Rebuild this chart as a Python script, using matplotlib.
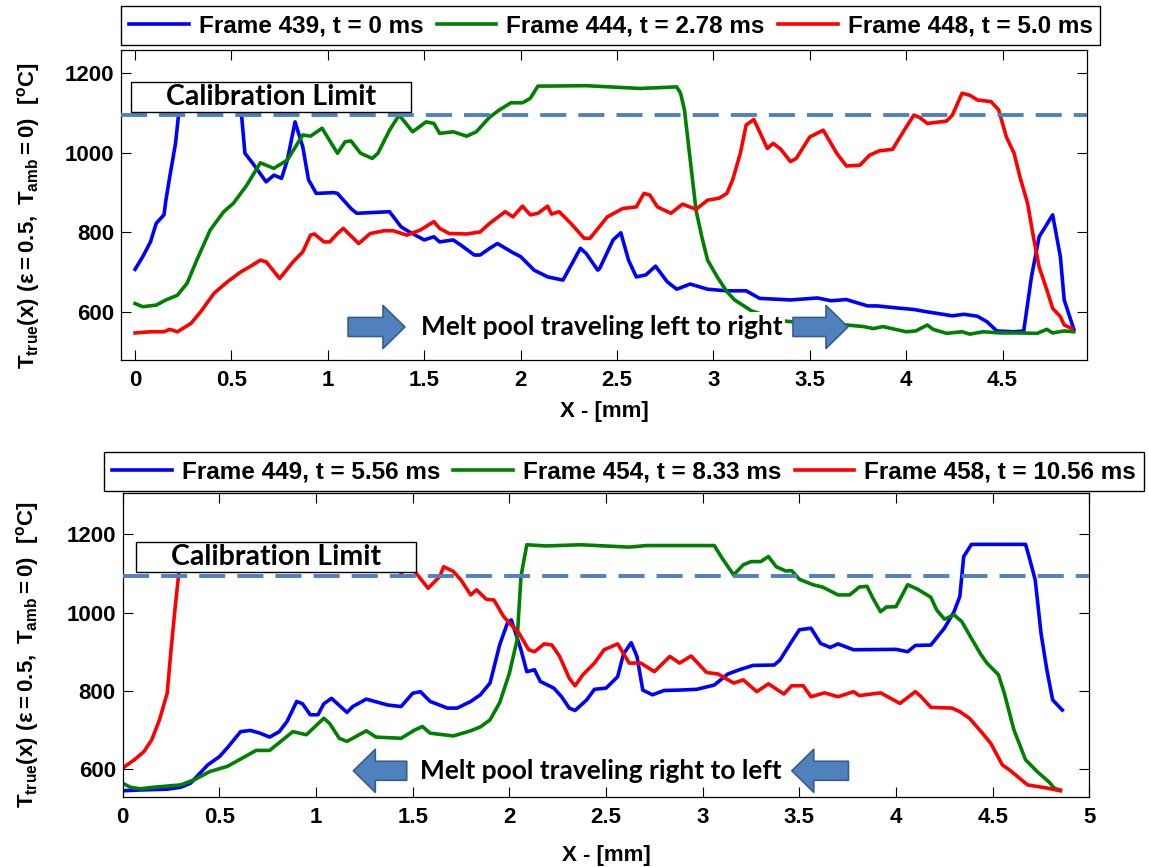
import matplotlib
matplotlib.use('Agg')
import matplotlib.pyplot as plt
from matplotlib.patches import Rectangle

plt.rcParams['font.family'] = 'Liberation Sans'
plt.rcParams['font.weight'] = 'bold'
plt.rcParams['mathtext.fontset'] = 'custom'
plt.rcParams['mathtext.rm'] = 'Liberation Sans:bold'
plt.rcParams['mathtext.it'] = 'Liberation Sans:bold'
plt.rcParams['mathtext.bf'] = 'Liberation Sans:bold'
plt.rcParams['mathtext.default'] = 'bf'

# ---- line scans, melt pool moving left -> right ----
x439 = [0.0, 0.04, 0.08, 0.11, 0.15, 0.16, 0.18, 0.21, 0.23, 0.25, 0.53, 0.55, 0.57, 0.61, 0.68, 0.72, 0.76, 0.79, 0.83, 0.87,
        0.90, 0.94, 1.03, 1.05, 1.12, 1.15, 1.32, 1.38, 1.42, 1.50, 1.55, 1.58, 1.65, 1.69, 1.76, 1.79, 1.84, 1.88, 1.96, 2.00,
        2.07, 2.14, 2.22, 2.31, 2.34, 2.40, 2.41, 2.48, 2.52, 2.56, 2.60, 2.65, 2.70, 2.76, 2.81, 2.88, 2.97, 3.07, 3.17, 3.24,
        3.40, 3.54, 3.61, 3.69, 3.80, 3.85, 3.95, 4.04, 4.11, 4.19, 4.24, 4.30, 4.37, 4.42, 4.47, 4.56, 4.61, 4.65, 4.69, 4.76,
        4.80, 4.82, 4.87]
T439 = [707, 739, 776, 823, 844, 881, 940, 1024, 1116, 1168, 1168, 1108, 999, 974, 927, 944, 936, 982, 1078, 1015,
        932, 898, 900, 898, 860, 848, 852, 814, 802, 781, 789, 776, 781, 768, 743, 743, 760, 772, 749, 739,
        705, 688, 680, 760, 747, 705, 709, 781, 799, 730, 688, 693, 715, 676, 657, 670, 657, 653, 653, 634,
        630, 635, 628, 631, 615, 615, 610, 606, 600, 594, 590, 594, 589, 575, 552, 550, 552, 688, 789, 844,
        739, 630, 556]

x444 = [0.0, 0.04, 0.11, 0.16, 0.22, 0.27, 0.32, 0.39, 0.46, 0.51, 0.58, 0.65, 0.72, 0.79, 0.87, 0.91, 0.97, 1.05, 1.09, 1.12,
        1.17, 1.23, 1.26, 1.32, 1.37, 1.44, 1.51, 1.55, 1.58, 1.65, 1.72, 1.77, 1.84, 1.89, 1.95, 2.01, 2.05, 2.09, 2.14, 2.34,
        2.62, 2.81, 2.83, 2.85, 2.88, 2.91, 2.94, 2.97, 3.02, 3.07, 3.11, 3.20, 3.35, 3.55, 3.69, 3.78, 3.83, 3.88, 4.00, 4.05,
        4.11, 4.14, 4.21, 4.29, 4.33, 4.40, 4.49, 4.59, 4.68, 4.73, 4.76, 4.82, 4.87]
T444 = [621, 613, 617, 630, 642, 672, 730, 806, 852, 873, 919, 975, 961, 982, 1045, 1042, 1062, 999, 1028, 1030,
        999, 986, 999, 1057, 1095, 1053, 1078, 1074, 1049, 1053, 1042, 1053, 1090, 1108, 1126, 1126, 1137, 1168, 1168, 1169,
        1162, 1166, 1150, 1108, 982, 856, 789, 730, 688, 651, 630, 602, 578, 568, 567, 563, 558, 563, 550, 552,
        567, 556, 546, 550, 544, 550, 547, 547, 546, 556, 547, 552, 550]

x448 = [0.0, 0.08, 0.15, 0.18, 0.22, 0.29, 0.34, 0.41, 0.48, 0.55, 0.60, 0.65, 0.68, 0.75, 0.82, 0.87, 0.91, 0.93, 0.98, 1.01,
        1.05, 1.08, 1.16, 1.22, 1.29, 1.34, 1.41, 1.48, 1.55, 1.58, 1.63, 1.72, 1.79, 1.84, 1.92, 1.96, 2.01, 2.05, 2.09, 2.14,
        2.16, 2.20, 2.26, 2.33, 2.36, 2.45, 2.53, 2.60, 2.64, 2.67, 2.71, 2.78, 2.84, 2.91, 2.97, 3.03, 3.07, 3.10, 3.14, 3.17,
        3.21, 3.24, 3.28, 3.31, 3.35, 3.40, 3.43, 3.50, 3.57, 3.64, 3.69, 3.76, 3.81, 3.86, 3.93, 3.99, 4.04, 4.07, 4.11, 4.21,
        4.24, 4.29, 4.33, 4.37, 4.44, 4.48, 4.52, 4.56, 4.59, 4.63, 4.66, 4.69, 4.73, 4.76, 4.80, 4.82, 4.86]
T448 = [547, 550, 550, 556, 550, 571, 600, 647, 676, 701, 715, 730, 726, 684, 726, 751, 793, 796, 776, 776,
        797, 810, 772, 797, 804, 804, 793, 806, 827, 810, 797, 796, 801, 823, 852, 839, 866, 844, 848, 866,
        846, 852, 823, 785, 785, 839, 860, 864, 898, 894, 864, 848, 871, 858, 881, 886, 898, 932, 999, 1070,
        1084, 1053, 1011, 1024, 1009, 978, 986, 1040, 1057, 999, 967, 969, 994, 1005, 1009, 1057, 1095, 1089, 1074, 1080,
        1095, 1150, 1145, 1133, 1129, 1108, 1040, 999, 940, 873, 789, 713, 655, 609, 588, 567, 558]

# ---- line scans, melt pool moving right -> left ----
x449 = [0.0, 0.09, 0.23, 0.30, 0.35, 0.40, 0.44, 0.50, 0.54, 0.61, 0.66, 0.71, 0.76, 0.81, 0.85, 0.90, 0.93, 0.97, 1.01, 1.04,
        1.08, 1.16, 1.19, 1.26, 1.37, 1.44, 1.50, 1.54, 1.59, 1.68, 1.73, 1.80, 1.85, 1.90, 1.95, 1.99, 2.01, 2.06, 2.09, 2.13,
        2.16, 2.23, 2.27, 2.31, 2.34, 2.40, 2.44, 2.50, 2.56, 2.59, 2.63, 2.66, 2.69, 2.74, 2.80, 2.88, 2.97, 3.06, 3.13, 3.19,
        3.26, 3.37, 3.40, 3.46, 3.50, 3.56, 3.61, 3.66, 3.70, 3.78, 4.00, 4.06, 4.10, 4.18, 4.25, 4.30, 4.33, 4.35, 4.39, 4.67,
        4.69, 4.72, 4.75, 4.78, 4.81, 4.86]
T449 = [545, 547, 549, 554, 564, 590, 611, 632, 654, 696, 699, 692, 682, 696, 722, 773, 767, 739, 739, 767,
        781, 745, 760, 779, 764, 760, 794, 798, 773, 756, 756, 773, 790, 820, 918, 973, 981, 905, 849, 854,
        824, 807, 785, 756, 750, 777, 804, 807, 836, 894, 923, 888, 802, 790, 801, 802, 804, 815, 843, 854,
        865, 866, 879, 926, 956, 960, 921, 911, 920, 905, 906, 900, 916, 917, 960, 1002, 1041, 1143, 1174, 1174,
        1139, 1083, 947, 854, 777, 751]

x454 = [0.0, 0.04, 0.09, 0.16, 0.23, 0.30, 0.37, 0.45, 0.54, 0.61, 0.69, 0.76, 0.81, 0.88, 0.95, 1.04, 1.07, 1.12, 1.16, 1.26,
        1.31, 1.44, 1.51, 1.55, 1.59, 1.71, 1.80, 1.85, 1.90, 1.95, 2.00, 2.04, 2.06, 2.09, 2.19, 2.37, 2.62, 2.71, 3.06, 3.10,
        3.16, 3.21, 3.25, 3.30, 3.34, 3.38, 3.43, 3.46, 3.50, 3.57, 3.62, 3.70, 3.76, 3.81, 3.85, 3.88, 3.92, 3.95, 4.00, 4.06,
        4.11, 4.18, 4.21, 4.25, 4.30, 4.34, 4.39, 4.44, 4.47, 4.53, 4.56, 4.61, 4.67, 4.73, 4.79, 4.82, 4.85]
T454 = [564, 554, 550, 554, 557, 560, 573, 594, 607, 626, 648, 648, 668, 696, 688, 730, 717, 679, 671, 698,
        682, 679, 700, 709, 692, 685, 698, 708, 726, 770, 845, 930, 1092, 1173, 1170, 1173, 1167, 1171, 1171, 1139,
        1096, 1122, 1130, 1130, 1143, 1117, 1106, 1107, 1085, 1071, 1065, 1045, 1045, 1065, 1067, 1037, 1002, 1014, 1015, 1071,
        1060, 1039, 1007, 983, 994, 977, 934, 892, 871, 841, 794, 700, 624, 594, 568, 551, 547]

x458 = [0.0, 0.06, 0.11, 0.15, 0.19, 0.23, 0.25, 0.27, 0.29, 0.31, 1.38, 1.44, 1.47, 1.51, 1.58, 1.64, 1.66, 1.71, 1.75, 1.80,
        1.83, 1.88, 1.92, 1.97, 2.01, 2.05, 2.10, 2.13, 2.18, 2.22, 2.26, 2.31, 2.34, 2.38, 2.44, 2.49, 2.56, 2.62, 2.68, 2.75,
        2.83, 2.88, 2.94, 3.02, 3.08, 3.16, 3.21, 3.28, 3.34, 3.42, 3.46, 3.52, 3.56, 3.63, 3.70, 3.78, 3.81, 3.92, 4.02, 4.10,
        4.13, 4.18, 4.29, 4.33, 4.38, 4.44, 4.49, 4.55, 4.59, 4.68, 4.78, 4.85]
T458 = [603, 624, 645, 675, 726, 794, 905, 1007, 1100, 1168, 1168, 1100, 1117, 1105, 1062, 1092, 1117, 1105, 1083, 1045,
        1058, 1034, 1032, 990, 968, 947, 905, 900, 920, 917, 888, 832, 813, 841, 871, 905, 920, 871, 871, 849,
        888, 871, 889, 847, 843, 820, 828, 798, 818, 792, 813, 813, 785, 795, 785, 798, 788, 795, 768, 798,
        785, 758, 756, 747, 730, 696, 666, 611, 597, 560, 552, 545]

labels_top = ['Frame 439, t = 0 ms', 'Frame 444, t = 2.78 ms', 'Frame 448, t = 5.0 ms']
labels_bot = ['Frame 449, t = 5.56 ms', 'Frame 454, t = 8.33 ms', 'Frame 458, t = 10.56 ms']
colors = ['#0000FF', '#008000', '#FF0000']
calib_limit = 1094

ylab = r'$T_{true}(x)\ (\varepsilon = 0.5,\ T_{amb} = 0)\ \ [^{o}C]$'
arrow_fc = '#4F81BD'
arrow_ec = '#385D8A'
arrow_style = 'simple,head_length=15.8,head_width=31,tail_width=13.7'

fig = plt.figure(figsize=(11.49, 8.67), dpi=100)
ax1 = fig.add_axes([0.1053, 0.5848, 0.8407, 0.3581])
ax2 = fig.add_axes([0.1068, 0.0807, 0.8413, 0.3506])


def setup(ax, xlim, ylim, xticks):
    ax.set_xlim(xlim)
    ax.set_ylim(ylim)
    ax.set_xticks(xticks)
    ax.set_xticklabels(['%g' % t for t in xticks])
    ax.set_yticks([600, 800, 1000, 1200])
    ax.tick_params(axis='both', direction='in', top=True, right=True, length=7, width=0.8, labelsize=16)
    ax.tick_params(axis='x', pad=7)
    ax.tick_params(axis='y', pad=5)
    for s in ax.spines.values():
        s.set_linewidth(0.9)
    ax.plot(xlim, [calib_limit, calib_limit], color=arrow_fc, lw=2.8, ls=(0, (6.7, 3.1)), zorder=3)
    ax.set_xlabel('X - [mm]', fontsize=16, fontweight='bold')
    ax.set_ylabel(ylab, fontsize=16, va='center')


def calib_box(ax, x0, x1, y0, y1):
    ax.add_patch(Rectangle((x0, y0), x1 - x0, y1 - y0, fc='white', ec='black', lw=1.0, zorder=5))
    ax.text((x0 + x1) / 2, (y0 + y1) / 2, 'Calibration Limit', ha='center', va='center',
            family='Lato', fontweight='bold', fontsize=20.5, zorder=6)


def block_arrow(ax, tail, tip, y):
    ax.annotate('', xy=(tip, y), xytext=(tail, y), zorder=6,
                arrowprops=dict(arrowstyle=arrow_style, mutation_scale=1, fc=arrow_fc, ec=arrow_ec,
                                lw=1.2, shrinkA=0, shrinkB=0))


# top panel
lines1 = []
for xs, ts, c in zip([x439, x444, x448], [T439, T444, T448], colors):
    lines1 += ax1.plot(xs, ts, color=c, lw=2.6, zorder=2)
setup(ax1, (-0.073, 4.938), (479, 1260), [0, 0.5, 1, 1.5, 2, 2.5, 3, 3.5, 4, 4.5])
ax1.xaxis.set_label_coords(0.5, -0.132)
ax1.yaxis.set_label_coords(-0.096, 0.464)
calib_box(ax1, -0.02, 1.432, 1103, 1178)
ax1.text(2.42, 562, 'Melt pool traveling left to right', ha='center', va='center', family='Lato',
         fontweight='bold', fontsize=19, zorder=5, bbox=dict(fc='white', ec='none', pad=2))
block_arrow(ax1, 1.105, 1.400, 562)
block_arrow(ax1, 3.413, 3.698, 562)

# bottom panel
lines2 = []
for xs, ts, c in zip([x449, x454, x458], [T449, T454, T458], colors):
    lines2 += ax2.plot(xs, ts, color=c, lw=2.6, zorder=2)
setup(ax2, (0, 5), (529, 1305), [0, 0.5, 1, 1.5, 2, 2.5, 3, 3.5, 4, 4.5, 5])
ax2.xaxis.set_label_coords(0.5, -0.159)
ax2.yaxis.set_label_coords(-0.098, 0.467)
calib_box(ax2, 0.069, 1.517, 1104.5, 1179.6)
ax2.text(2.474, 596, 'Melt pool traveling right to left', ha='center', va='center', family='Lato',
         fontweight='bold', fontsize=19, zorder=5, bbox=dict(fc='white', ec='none', pad=2))
block_arrow(ax2, 1.469, 1.193, 596)
block_arrow(ax2, 3.754, 3.461, 596)

legend_kw = dict(loc='upper left', ncol=3, fontsize=17.5, frameon=True, fancybox=False, framealpha=1,
                 edgecolor='black', borderaxespad=0, borderpad=0.33, handlelength=2.46,
                 handletextpad=0.41, columnspacing=0.54)
leg1 = fig.legend(lines1, labels_top, bbox_to_anchor=(121 / 1149, 1 - 6 / 867), **legend_kw)
leg2 = fig.legend(lines2, labels_bot, bbox_to_anchor=(104 / 1149, 1 - 452 / 867), **legend_kw)
for leg in (leg1, leg2):
    leg.get_frame().set_linewidth(1.0)

fig.savefig('out.png', dpi=100)
